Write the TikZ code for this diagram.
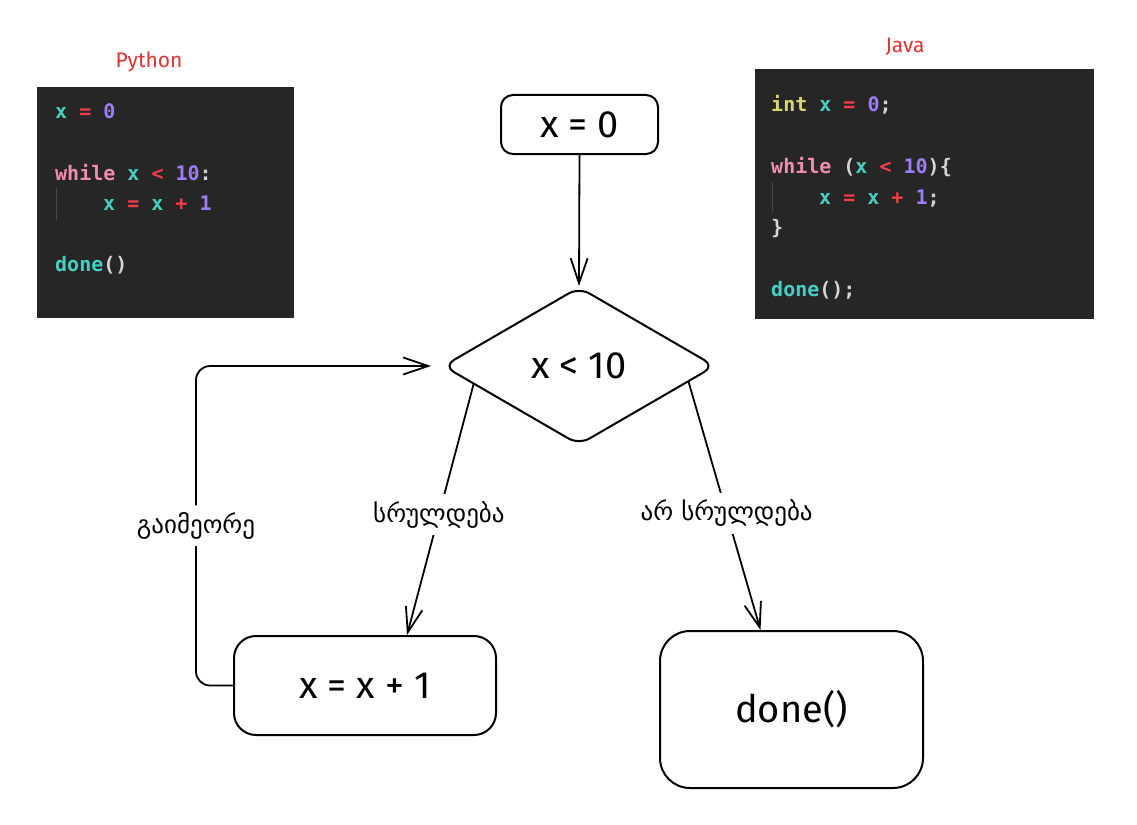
\documentclass[tikz,border=0pt]{standalone}
\usepackage{fontspec}
\setmainfont{Fira Sans}
\newfontfamily\geofont{DejaVu Sans}
\newfontfamily\codefont{DejaVu Sans Mono}
\usetikzlibrary{arrows.meta,shapes.geometric,calc}
\definecolor{codebg}{HTML}{262626}
\definecolor{cvar}{HTML}{45D0C3}
\definecolor{cop}{HTML}{F23E4A}
\definecolor{cnum}{HTML}{9D7CF5}
\definecolor{ckw}{HTML}{F28CB1}
\definecolor{ctype}{HTML}{D9D66E}
\definecolor{cpun}{HTML}{D4D4D4}
\definecolor{guide}{HTML}{454545}
\definecolor{langred}{HTML}{E03131}
\newcommand{\kvar}[1]{\textcolor{cvar}{#1}}
\newcommand{\kop}[1]{\textcolor{cop}{#1}}
\newcommand{\knum}[1]{\textcolor{cnum}{#1}}
\newcommand{\kkw}[1]{\textcolor{ckw}{#1}}
\newcommand{\ktype}[1]{\textcolor{ctype}{#1}}
\newcommand{\kpun}[1]{\textcolor{cpun}{#1}}

\begin{document}
\begin{tikzpicture}[x=1pt, y=-1pt,
    box/.style={draw, line width=2pt, inner sep=0pt, font=\fontsize{38}{44}\selectfont},
    cond/.style={draw, diamond, aspect=1.72, line width=2pt, inner sep=0pt,
        minimum width=272pt, minimum height=158pt, rounded corners=12pt,
        font=\fontsize{38}{44}\selectfont},
    flow/.style={-{Straight Barb[length=25pt, width=17pt]}, line width=1.8pt},
    lbl/.style={fill=white, inner sep=7pt, font=\geofont\fontsize{25}{30}\selectfont},
    codeblock/.style={fill=codebg, anchor=north west, inner sep=0pt},
    codeln/.style={anchor=base west, inner sep=0pt, font=\codefont\bfseries\fontsize{20}{24}\selectfont},
    langlbl/.style={text=langred, font=\fontsize{21}{25}\selectfont}]
    \useasboundingbox (0,0) rectangle (1137,824);

    % code samples
    \node[langlbl] (pylbl) at (149,62) {Python};
    \node[codeblock, minimum width=257pt, minimum height=231pt] (pyblk) at (37,87) {};
    \draw[guide, line width=1pt] (56,188) -- (56,220);
    \node[codeln] (py1) at (55,118) {\kvar{x} \kop{=} \knum{0}};
    \node[codeln] (py2) at (55,180) {\kkw{while} \kvar{x} \kop{<} \knum{10}\kpun{:}};
    \node[codeln] (py3) at (103,210) {\kvar{x} \kop{=} \kvar{x} \kop{+} \knum{1}};
    \node[codeln] (py4) at (55,271) {\kvar{done}\kpun{()}};

    \node[langlbl] (jvlbl) at (905,47) {Java};
    \node[codeblock, minimum width=339pt, minimum height=250pt] (jvblk) at (755,69) {};
    \draw[guide, line width=1pt] (772,182) -- (772,212);
    \node[codeln] (jv1) at (771,112) {\ktype{int} \kvar{x} \kop{=} \knum{0}\kpun{;}};
    \node[codeln] (jv2) at (771,173) {\kkw{while} \kpun{(}\kvar{x} \kop{<} \knum{10}\kpun{)\{}};
    \node[codeln] (jv3) at (819,204) {\kvar{x} \kop{=} \kvar{x} \kop{+} \knum{1}\kpun{;}};
    \node[codeln] (jv4) at (771,234) {\kpun{\}}};
    \node[codeln] (jv5) at (771,296) {\kvar{done}\kpun{();}};

    % flow chart
    \node[box, rounded corners=12pt, minimum width=157pt, minimum height=59pt] (init) at (579.5,124.5) {x = 0};
    \node[cond] (test) at (579,366) {x < 10};
    \node[box, rounded corners=22pt, minimum width=262pt, minimum height=99pt] (inc) at (365,685.5) {x = x + 1};
    \node[box, rounded corners=30pt, minimum width=263pt, minimum height=157pt] (done) at (791.5,709.5) {done()};
    \coordinate (loopx) at (196,0);

    \draw[flow] (init.south) -- (test.north);
    \draw[flow] ($(test.west)!0.23!(test.south)$) -- node[lbl, pos=0.52] {სრულდება} ([xshift=42pt]inc.north);
    \draw[flow] ($(test.east)!0.2!(test.south)$) -- node[lbl, pos=0.53] {არ სრულდება} ([xshift=-31pt]done.north);
    \draw[flow, rounded corners=14pt] (inc.west) -- (inc.west -| loopx)
        -- node[lbl] {გაიმეორე} (loopx |- test.west) -- ([xshift=-11pt]test.west);
\end{tikzpicture}
\end{document}
